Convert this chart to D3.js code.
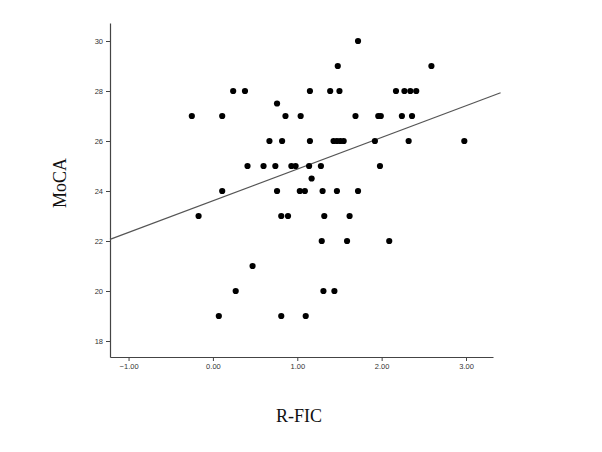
<!DOCTYPE html>
<html lang="en">
  <head>
    <meta charset="utf-8">
    <title>MoCA vs R-FIC</title>
    <style>
      html, body {
        margin: 0;
        background: #fff;
      }
      svg {
        display: block;
      }
      .tick text {
        font-family: "Liberation Sans", Arial, sans-serif;
        font-size: 7.5px;
        fill: #333;
      }
      .axis-title {
        font-family: "Liberation Serif", "Times New Roman", serif;
        font-size: 18px;
        fill: #111;
      }
    </style>
    <script src="https://d3js.org/d3.v7.min.js"></script>
  </head>
  <body>
    <svg id="chart" width="602" height="452"></svg>
  </body>
  <script>
  // R-FIC (x) and MoCA (y) for each subject
  const rfic = [
    1.72,
    1.48, 2.59,
    0.24, 0.38, 1.15, 1.39, 1.50, 2.17, 2.27, 2.34, 2.41,
    0.76,
    -0.25, 0.11, 0.86, 1.04, 1.69, 1.96, 1.99, 2.24, 2.36,
    0.67, 0.82, 1.15, 1.43, 1.47, 1.51, 1.55, 1.92, 2.32, 2.98,
    0.41, 0.60, 0.74, 0.93, 0.98, 1.14, 1.28, 1.98,
    1.17,
    0.11, 0.76, 1.03, 1.09, 1.30, 1.47, 1.72,
    -0.17, 0.81, 0.89, 1.32, 1.62,
    1.29, 1.59, 2.09,
    0.47,
    0.27, 1.31, 1.44,
    0.07, 0.81, 1.10
  ];
  const moca = [
    30,
    29, 29,
    28, 28, 28, 28, 28, 28, 28, 28, 28,
    27.5,
    27, 27, 27, 27, 27, 27, 27, 27, 27,
    26, 26, 26, 26, 26, 26, 26, 26, 26, 26,
    25, 25, 25, 25, 25, 25, 25, 25,
    24.5,
    24, 24, 24, 24, 24, 24, 24,
    23, 23, 23, 23, 23,
    22, 22, 22,
    21,
    20, 20, 20,
    19, 19, 19
  ];
  const xTicks = [-1, 0, 1, 2, 3];
  const yTicks = [18, 20, 22, 24, 26, 28, 30];
  // linear fit
  const fitIntercept = 23.61;
  const fitSlope = 1.267;
  const fitRange = [-1.22, 3.41];

  const points = rfic.map((d, i) => ({ x: d, y: moca[i] }));

  const svg = d3.select('#chart');

  // plot frame: y axis at x=110, x axis at y=357
  const x = d3.scaleLinear().domain([-1.22, 3.32]).range([110, 493]);
  const y = d3.scaleLinear().domain([17.36, 30.72]).range([357, 23]);

  const xAxis = d3.axisBottom(x)
    .tickValues(xTicks)
    .tickFormat(d3.format('.2f'))
    .tickSizeInner(4)
    .tickSizeOuter(0)
    .tickPadding(3);
  const yAxis = d3.axisLeft(y)
    .tickValues(yTicks)
    .tickFormat(d3.format('d'))
    .tickSizeInner(4)
    .tickSizeOuter(0)
    .tickPadding(3);

  const gx = svg.append('g')
    .attr('transform', 'translate(0,357)')
    .call(xAxis);
  const gy = svg.append('g')
    .attr('transform', 'translate(110,0)')
    .call(yAxis);

  [gx, gy].forEach(g => {
    g.select('.domain').attr('stroke', '#444').attr('stroke-width', 1.2);
    g.selectAll('.tick line').attr('stroke', '#444');
    g.attr('font-family', null).attr('font-size', null);
  });

  // regression line
  const line = d3.line()
    .x(d => x(d))
    .y(d => y(fitIntercept + fitSlope * d));
  svg.append('path')
    .datum(fitRange)
    .attr('d', line)
    .attr('fill', 'none')
    .attr('stroke', '#555')
    .attr('stroke-width', 1.2);

  svg.append('g')
    .selectAll('circle')
    .data(points)
    .enter()
    .append('circle')
    .attr('cx', d => x(d.x))
    .attr('cy', d => y(d.y))
    .attr('r', 3.1)
    .attr('fill', '#000');

  svg.append('text')
    .attr('class', 'axis-title')
    .attr('text-anchor', 'middle')
    .attr('transform', 'translate(66,183) rotate(-90)')
    .text('MoCA');

  svg.append('text')
    .attr('class', 'axis-title')
    .attr('text-anchor', 'middle')
    .attr('x', 299)
    .attr('y', 422)
    .text('R-FIC');
  </script>
</html>
